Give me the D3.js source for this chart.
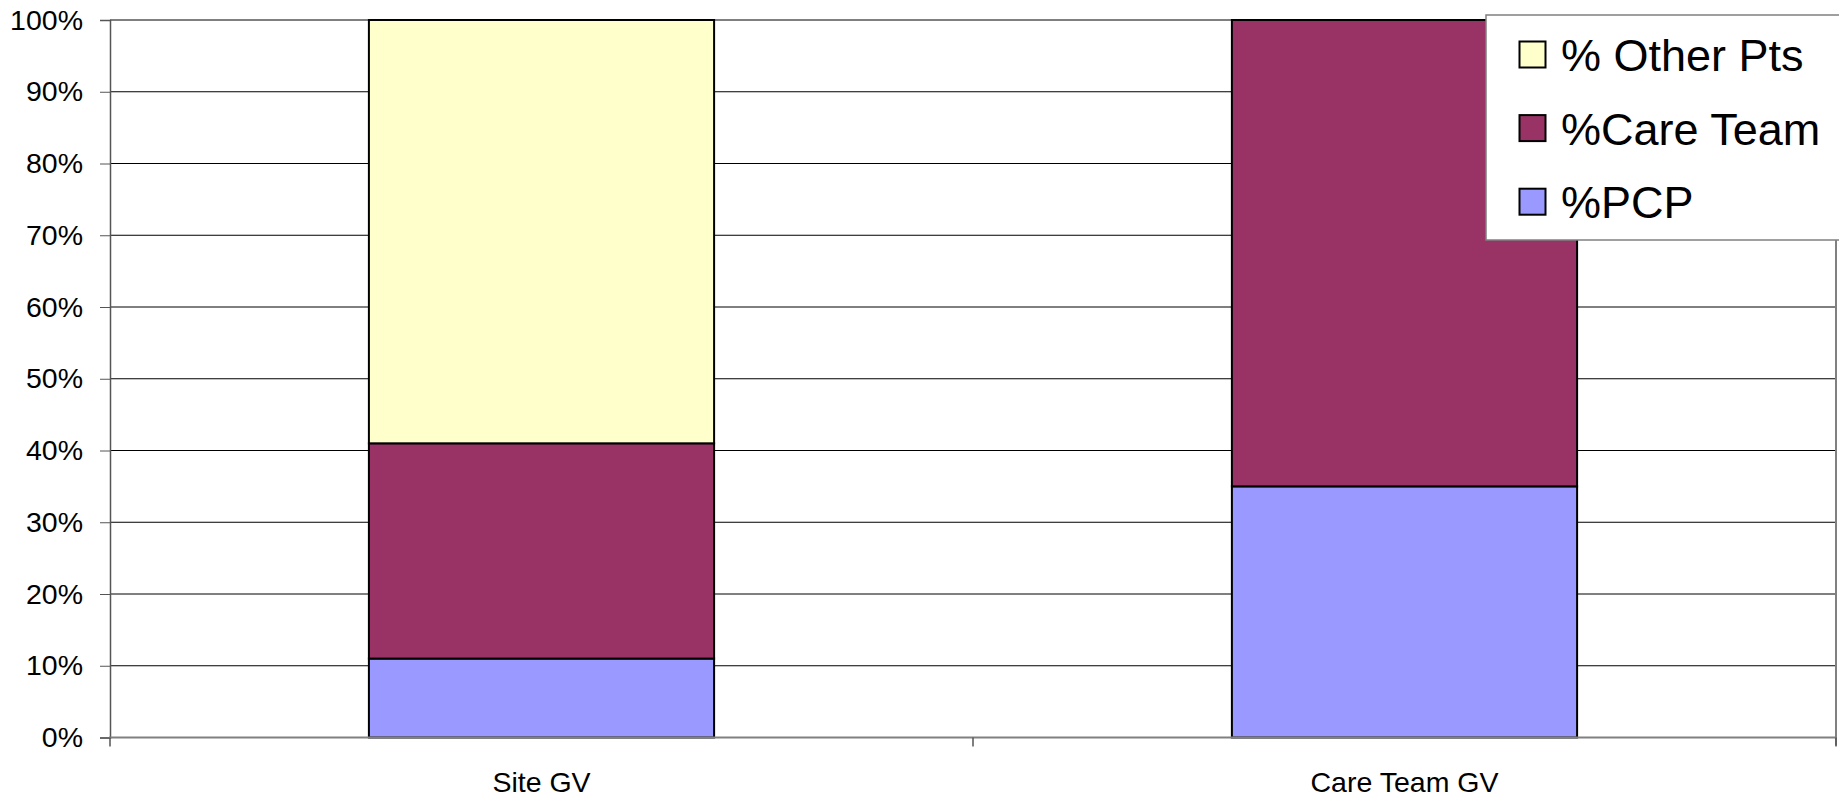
<!DOCTYPE html>
<html>
<head>
<meta charset="utf-8">
<script src="https://cdn.jsdelivr.net/npm/d3@7/dist/d3.min.js"></script>
<style>
  html, body { margin: 0; padding: 0; background: #fff; }
  svg { display: block; font-family: "Liberation Sans", Arial, sans-serif; }
</style>
</head>
<body>
<svg id="chart" width="1839" height="799"></svg>
<script>
// Share of patients by provider group, per site
const categories = ["Site GV", "Care Team GV"];
const pcp = [0.11, 0.35];
const careTeam = [0.30, 0.65];
const otherPts = [0.59, 0.00];
const yTicks = [0, 0.1, 0.2, 0.3, 0.4, 0.5, 0.6, 0.7, 0.8, 0.9, 1.0];

const seriesKeys = ["pcp", "careTeam", "otherPts"];
const seriesNames = { pcp: "%PCP", careTeam: "%Care Team", otherPts: "% Other Pts" };
const seriesColors = { pcp: "#9999FF", careTeam: "#993366", otherPts: "#FFFFCC" };

const rows = categories.map((c, i) => ({
  category: c, pcp: pcp[i], careTeam: careTeam[i], otherPts: otherPts[i]
}));

const svg = d3.select("#chart");
const plot = { left: 110, right: 1836, top: 20, bottom: 737.5 };

const x = d3.scaleBand()
  .domain(categories)
  .range([plot.left, plot.right])
  .paddingInner(0.6)
  .paddingOuter(0.3);

const y = d3.scaleLinear().domain([0, 1]).range([plot.bottom, plot.top]);

// horizontal gridlines
svg.append("g")
  .selectAll("line")
  .data(yTicks.filter(d => d > 0))
  .join("line")
  .attr("x1", plot.left).attr("x2", plot.right)
  .attr("y1", d => y(d)).attr("y2", d => y(d))
  .attr("stroke", "#000").attr("stroke-width", 1);

// right plot border
svg.append("line")
  .attr("x1", plot.right).attr("x2", plot.right)
  .attr("y1", plot.top).attr("y2", plot.bottom + 8)
  .attr("stroke", "#808080").attr("stroke-width", 2);

// y axis
const yAxis = svg.append("g")
  .attr("transform", `translate(${plot.left},0)`)
  .call(d3.axisLeft(y).tickValues(yTicks).tickFormat(d3.format(".0%")).tickSize(10).tickPadding(17));
yAxis.select(".domain").attr("stroke", "#555").attr("stroke-width", 1.5);
yAxis.selectAll(".tick line").attr("stroke", "#555");
yAxis.selectAll("text")
  .attr("font-size", 28.5).attr("fill", "#000")
  .attr("font-family", "'Liberation Sans', Arial, sans-serif");

// stacked bars
const stacked = d3.stack().keys(seriesKeys)(rows);
svg.append("g")
  .selectAll("g")
  .data(stacked)
  .join("g")
  .attr("fill", d => seriesColors[d.key])
  .selectAll("rect")
  .data(d => d.filter(s => s[1] - s[0] > 0))
  .join("rect")
  .attr("x", d => x(d.data.category))
  .attr("width", x.bandwidth())
  .attr("y", d => y(d[1]))
  .attr("height", d => y(d[0]) - y(d[1]))
  .attr("stroke", "#000").attr("stroke-width", 2);

// x axis line and category ticks at band boundaries
const xg = svg.append("g");
xg.append("line")
  .attr("x1", plot.left - 1).attr("x2", plot.right + 1)
  .attr("y1", plot.bottom).attr("y2", plot.bottom)
  .attr("stroke", "#808080").attr("stroke-width", 2);
const boundaries = d3.range(categories.length + 1).map(i => plot.left + i * (plot.right - plot.left) / categories.length);
xg.selectAll("line.tick")
  .data(boundaries)
  .join("line")
  .attr("class", "tick")
  .attr("x1", d => d).attr("x2", d => d)
  .attr("y1", plot.bottom).attr("y2", plot.bottom + 9)
  .attr("stroke", "#555").attr("stroke-width", 1.5);
xg.selectAll("text")
  .data(categories)
  .join("text")
  .attr("x", d => x(d) + x.bandwidth() / 2)
  .attr("y", 792)
  .attr("text-anchor", "middle")
  .attr("font-size", 28.5)
  .attr("fill", "#000")
  .text(d => d);

// legend
const legendKeys = ["otherPts", "careTeam", "pcp"];
const legend = svg.append("g");
legend.append("rect")
  .attr("x", 1486).attr("y", 15)
  .attr("width", 420).attr("height", 225)
  .attr("fill", "#fff").attr("stroke", "#808080").attr("stroke-width", 1.5);
const items = legend.selectAll("g")
  .data(legendKeys)
  .join("g")
  .attr("transform", (d, i) => `translate(0,${54.5 + i * 73.6})`);
items.append("rect")
  .attr("x", 1519.5).attr("y", -13)
  .attr("width", 26).attr("height", 26)
  .attr("fill", d => seriesColors[d])
  .attr("stroke", "#000").attr("stroke-width", 2);
items.append("text")
  .attr("x", 1561)
  .attr("y", 16.5)
  .attr("font-size", 45)
  .attr("fill", "#000")
  .text(d => seriesNames[d]);
</script>
</body>
</html>
